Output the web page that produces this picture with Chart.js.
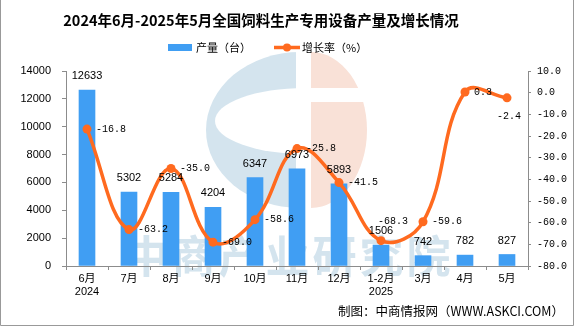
<!DOCTYPE html>
<html>
<head>
<meta charset="utf-8">
<script src="https://cdn.jsdelivr.net/npm/chart.js@4.4.1/dist/chart.umd.min.js"></script>
<style>
  html, body { margin: 0; padding: 0; background: #fff; }
  #wrap { width: 575px; height: 326px; }
</style>
</head>
<body>
<div id="wrap"><canvas id="chart" width="575" height="326"></canvas></div>
<script>
// monthly output (units) and year-on-year growth (%)
const months = [['6月', '2024'], '7月', '8月', '9月', '10月', '11月', '12月', ['1-2月', '2025'], '3月', '4月', '5月'];
const output = [12633, 5302, 5284, 4204, 6347, 6973, 5893, 1506, 742, 782, 827];
const growth = [-16.8, -63.2, -35.0, -69.0, -58.6, -25.8, -41.5, -68.3, -59.6, 0.3, -2.4];

const titleText = '2024年6月-2025年5月全国饲料生产专用设备产量及增长情况';
const outputName = '产量（台）';
const growthName = '增长率（%）';
const sourceText = '制图：中商情报网（WWW.ASKCI.COM）';
const watermarkText = '中商产业研究院';

// where each growth label sits relative to its point
const growthLabelSide = ['right', 'right', 'right', 'right', 'right', 'right', 'right', 'above', 'right', 'right', 'below'];

const BLUE = '#409EF3';
const ORANGE = '#FF6A1F';
const AXIS = '#8c8c8c';
const SANS = '"Liberation Sans", "Noto Sans CJK SC", sans-serif';
const MONO = '"Liberation Mono", "DejaVu Sans Mono", monospace';
const CJK = '"Noto Sans CJK SC", sans-serif';

const decor = {
  id: 'decor',
  beforeDraw(chart) {
    const ctx = chart.ctx;
    ctx.save();
    // faint logo behind the plot
    ctx.fillStyle = '#D4E4EE';
    ctx.beginPath();
    ctx.ellipse(300, 130, 94, 78, 0, Math.PI / 2, Math.PI * 1.5);
    ctx.closePath();
    ctx.fill();
    ctx.globalCompositeOperation = 'destination-out';
    ctx.beginPath();
    ctx.ellipse(305, 121, 90, 33, 0, 0, Math.PI * 2);
    ctx.fill();
    ctx.fillRect(296, 40, 20, 180);
    ctx.globalCompositeOperation = 'source-over';
    ctx.fillStyle = '#F9E1D7';
    ctx.beginPath();
    ctx.ellipse(311, 130, 56, 78, 0, -Math.PI / 2, Math.PI / 2);
    ctx.closePath();
    ctx.fill();
    ctx.fillStyle = '#fff';
    ctx.fillRect(311, 88, 60, 14);

    ctx.fillStyle = '#D4E4EE';
    ctx.font = 'bold 44px ' + CJK;
    ctx.letterSpacing = '3px';
    ctx.textAlign = 'center';
    ctx.textBaseline = 'middle';
    ctx.fillText(watermarkText, 289, 256);
    ctx.letterSpacing = '0px';
    ctx.restore();
  },
  afterDraw(chart) {
    const ctx = chart.ctx;
    ctx.save();
    ctx.fillStyle = '#000';
    ctx.textBaseline = 'middle';
    ctx.textAlign = 'center';
    ctx.font = 'bold 14.5px ' + CJK;
    ctx.fillText(titleText, 261, 20);

    // legend
    ctx.font = '11px ' + CJK;
    ctx.textAlign = 'left';
    ctx.fillStyle = BLUE;
    ctx.fillRect(168, 44, 24, 7);
    ctx.fillStyle = '#000';
    ctx.fillText(outputName, 196, 47.5);
    ctx.strokeStyle = ORANGE;
    ctx.lineWidth = 3.5;
    ctx.beginPath();
    ctx.moveTo(274, 47.5);
    ctx.lineTo(300, 47.5);
    ctx.stroke();
    ctx.fillStyle = ORANGE;
    ctx.beginPath();
    ctx.arc(287, 47.5, 4, 0, Math.PI * 2);
    ctx.fill();
    ctx.fillStyle = '#000';
    ctx.fillText(growthName, 302, 47.5);

    ctx.textAlign = 'right';
    ctx.font = '12.5px ' + CJK;
    ctx.fillText(sourceText, 564, 311);

    // frame on three sides
    ctx.strokeStyle = '#999';
    ctx.lineWidth = 1;
    ctx.beginPath();
    ctx.moveTo(0.5, 0);
    ctx.lineTo(0.5, 325.5);
    ctx.lineTo(573.5, 325.5);
    ctx.lineTo(573.5, 0);
    ctx.stroke();
    ctx.restore();
  }
};

const valueLabels = {
  id: 'valueLabels',
  afterDatasetsDraw(chart) {
    const ctx = chart.ctx;
    ctx.save();
    ctx.fillStyle = '#000';
    ctx.textBaseline = 'middle';

    ctx.font = '11px ' + SANS;
    ctx.textAlign = 'center';
    chart.getDatasetMeta(0).data.forEach((bar, i) => {
      ctx.fillText(String(output[i]), bar.x, bar.y - 14);
    });

    ctx.font = '10px ' + MONO;
    ctx.textAlign = 'left';
    chart.getDatasetMeta(1).data.forEach((pt, i) => {
      const text = growth[i].toFixed(1);
      const side = growthLabelSide[i];
      if (side === 'above') ctx.fillText(text, pt.x - 3, pt.y - 19);
      else if (side === 'below') ctx.fillText(text, pt.x - 10, pt.y + 18);
      else ctx.fillText(text, pt.x + 9, pt.y);
    });
    ctx.restore();
  }
};

new Chart(document.getElementById('chart'), {
  data: {
    labels: months,
    datasets: [{
      type: 'bar',
      label: outputName,
      data: output,
      backgroundColor: BLUE,
      barThickness: 16,
      yAxisID: 'y',
      order: 1
    }, {
      type: 'line',
      label: growthName,
      data: growth,
      borderColor: ORANGE,
      backgroundColor: ORANGE,
      borderWidth: 3.5,
      pointRadius: 4.5,
      pointBorderWidth: 0,
      pointBackgroundColor: ORANGE,
      tension: 0.4,
      yAxisID: 'y1',
      order: 0
    }]
  },
  options: {
    responsive: false,
    animation: false,
    layout: { padding: { top: 71, left: 0, right: 0, bottom: 0 } },
    plugins: {
      legend: { display: false },
      title: { display: false },
      tooltip: { enabled: false }
    },
    scales: {
      x: {
        offset: true,
        grid: { offset: true, drawOnChartArea: false, tickLength: 4, color: AXIS },
        border: { color: AXIS },
        ticks: {
          color: '#000',
          padding: 3,
          maxRotation: 0,
          autoSkip: false,
          font: { family: SANS, size: 11, lineHeight: 1.15 }
        },
        afterFit(scale) { scale.height = 60; }
      },
      y: {
        position: 'left',
        min: 0,
        max: 14000,
        grid: { drawOnChartArea: false, tickLength: 4, color: AXIS },
        border: { color: AXIS },
        ticks: {
          stepSize: 2000,
          color: '#000',
          padding: 11,
          font: { family: SANS, size: 11 },
          callback: function (value) {
            return String(value);
          }
        },
        afterFit(scale) { scale.width = 66; }
      },
      y1: {
        position: 'right',
        min: -80,
        max: 10,
        grid: { drawOnChartArea: false, tickLength: 3, color: AXIS },
        border: { color: AXIS },
        ticks: {
          stepSize: 10,
          color: '#000',
          padding: 6,
          font: { family: MONO, size: 10 },
          callback: function (value) {
            return value.toFixed(1);
          }
        },
        afterFit(scale) { scale.width = 47; }
      }
    }
  },
  plugins: [decor, valueLabels]
});
</script>
</body>
</html>
